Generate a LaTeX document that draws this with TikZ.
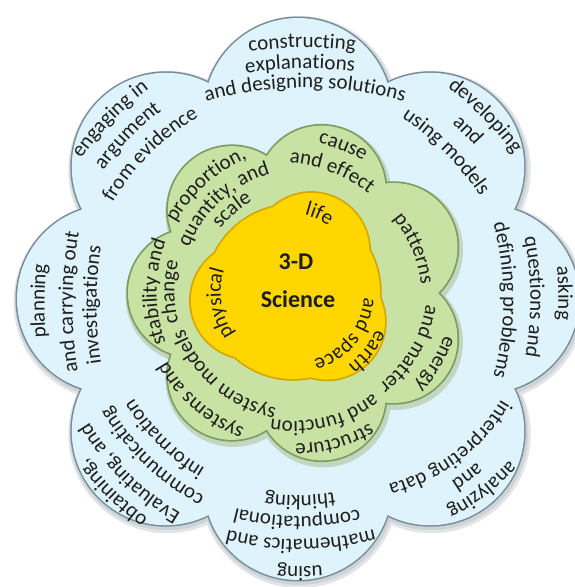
\documentclass[tikz,border=0pt]{standalone}
\usepackage{fontspec}
\setmainfont{Carlito}
\usetikzlibrary{decorations.text}
\definecolor{bluefill}{RGB}{222,243,251}
\definecolor{blueedge}{RGB}{120,140,152}
\definecolor{blueshadow}{RGB}{205,212,216}
\definecolor{greenfill}{RGB}{199,226,163}
\definecolor{greenedge}{RGB}{125,155,98}
\definecolor{greenshadow}{RGB}{175,195,155}
\definecolor{yellowfill}{RGB}{255,214,0}
\definecolor{yellowedge}{RGB}{215,165,0}
\definecolor{inktext}{RGB}{30,30,30}
% #1,#2 arc centre (pixel), #3,#4 middle of the x-height band (pixel), #5 text, #6 size
\newcommand\curvetext[6]{%
  \pgfmathsetmacro\ctR{10*sqrt(((#3-#1)/10)^2+((#4-#2)/10)^2)-0.22*#6}%
  \pgfmathsetmacro\ctA{atan2(#2-#4,#3-#1)}%
  \pgfmathsetmacro\ctS{min(170,15000/\ctR)}%
  \pgfmathsetmacro\ctB{\ctA+\ctS}%
  \pgfmathsetmacro\ctE{\ctA-\ctS}%
  \pgfmathsetmacro\ctX{#1+\ctR*cos(\ctB)}%
  \pgfmathsetmacro\ctY{-#2+\ctR*sin(\ctB)}%
  \path[decorate,decoration={text along path,text align={align=center},text color=inktext,
    text={|\fontsize{#6}{#6}\selectfont|#5}}]
    (\ctX,\ctY) arc[start angle=\ctB,end angle=\ctE,radius=\ctR];%
}
\tikzset{
  outerpetal/.style={radius=94},
  greenpetal/.style={radius=64},
}
\begin{document}
\begin{tikzpicture}[x=1pt,y=1pt]
\useasboundingbox (0,0) rectangle (575,-587);
\fill[white] (0,0) rectangle (575,-587);
% ---------- outer (practices) flower
\begin{scope}[shift={(298,-299)}]
  \foreach \a in {0,45,...,315} \fill[blueshadow!60!white] (\a:187) ++(1.5,-3) circle[radius=99];
  \foreach \a in {0,45,...,315} \fill[blueshadow] (\a:187) ++(1,-2) circle[radius=97];
  \foreach \a in {0,45,...,315} \filldraw[fill=bluefill,draw=blueedge,line width=3] (\a:187) circle[outerpetal];
  \foreach \a in {0,45,...,315} \fill[bluefill] (\a:187) circle[outerpetal];
  \fill[bluefill] (0,0) circle[radius=190];
\end{scope}
% ---------- green (crosscutting concepts) flower
\begin{scope}[shift={(298,-293)}]
  \foreach \k in {0,...,6} \fill[greenshadow!60!bluefill] ({180-\k*51.4286}:106) ++(1.5,-3) circle[radius=68];
  \foreach \k in {0,...,6} \filldraw[fill=greenfill,draw=greenedge,line width=3.5] ({180-\k*51.4286}:106) circle[greenpetal];
  \foreach \k in {0,...,6} \fill[greenfill] ({180-\k*51.4286}:106) circle[greenpetal];
  \fill[greenfill] (0,0) circle[radius=100];
\end{scope}
% ---------- yellow core
\begin{scope}[shift={(293,-292)}]
  \filldraw[fill=yellowfill,draw=yellowedge,line width=3.5] (0,0) circle[radius=87];
  \foreach \a in {66,191,-41} \filldraw[fill=yellowfill,draw=yellowedge,line width=3.5] (\a:45) circle[radius=58];
  \fill[yellowfill] (0,0) circle[radius=87];
  \foreach \a in {66,191,-41} \fill[yellowfill] (\a:45) circle[radius=58];
\end{scope}
% ---------- outer texts
\curvetext{305}{443}{302}{43}{constructing}{21}
\curvetext{305}{443}{300}{64}{explanations}{21}
\curvetext{305}{443}{305}{83}{and designing solutions}{21}
\curvetext{236}{362}{486}{115}{developing}{21}
\curvetext{236}{362}{467}{131}{and}{21}
\curvetext{236}{362}{448}{150}{using models}{21}
\curvetext{209}{300}{563}{293}{asking}{21}
\curvetext{209}{300}{535}{297}{questions and}{21}
\curvetext{209}{300}{508}{300}{defining problems}{21}
\curvetext{342}{305}{483}{491}{analyzing}{21}
\curvetext{342}{305}{467}{476}{and}{21}
\curvetext{342}{305}{456}{457}{interpreting data}{21}
\curvetext{300}{252}{300}{571}{using}{21}
\curvetext{300}{252}{301}{544}{mathematics and}{21}
\curvetext{300}{252}{297}{521}{computational}{21}
\curvetext{300}{252}{300}{500}{thinking}{21}
\curvetext{316}{285}{112}{494}{obtaining,}{21}
\curvetext{316}{285}{126}{477}{Evaluating, and}{21}
\curvetext{316}{285}{148}{461}{communicating}{21}
\curvetext{316}{285}{162}{441}{information}{21}
\curvetext{492}{305}{40}{301}{planning}{21}
\curvetext{492}{305}{68}{302}{and carrying out}{21}
\curvetext{492}{305}{92}{305}{investigations}{21}
\curvetext{324}{328}{109}{118}{engaging in}{21}
\curvetext{324}{328}{127}{135}{argument}{21}
\curvetext{324}{328}{147}{151}{from evidence}{21}
% ---------- green texts
\curvetext{279}{308}{343}{146}{cause}{21}
\curvetext{279}{308}{333}{168}{and effect}{21}
\curvetext{296}{299}{416}{248}{patterns}{21}
\curvetext{302}{286}{436}{364}{energy}{21}
\curvetext{302}{286}{414}{352}{and matter}{21}
\curvetext{295}{296}{335}{443}{structure}{21}
\curvetext{295}{296}{326}{422}{and function}{21}
\curvetext{302}{285}{197}{405}{systems and}{21}
\curvetext{302}{285}{217}{384}{system models}{21}
\curvetext{300}{292}{152}{292}{stability and}{21}
\curvetext{300}{292}{170}{292}{change}{21}
\curvetext{305}{294}{203}{181}{proportion,}{21}
\curvetext{305}{294}{218}{198}{quantity, and}{21}
\curvetext{305}{294}{232}{210}{scale}{21}
% ---------- yellow texts
\curvetext{285}{290}{319}{215}{life}{21}
\curvetext{296}{292}{217}{304}{physical}{21}
\curvetext{294}{293}{368}{352}{earth}{21}
\curvetext{294}{293}{352}{340}{and space}{21}
% ---------- centre
\node[font=\bfseries\fontsize{24}{24}\selectfont,text=inktext,anchor=base,inner sep=0] (core3d) at (296,-269) {3-D};
\node[font=\bfseries\fontsize{24}{24}\selectfont,text=inktext,anchor=base,inner sep=0] (coresci) at (298,-307) {Science};
\end{tikzpicture}
\end{document}
